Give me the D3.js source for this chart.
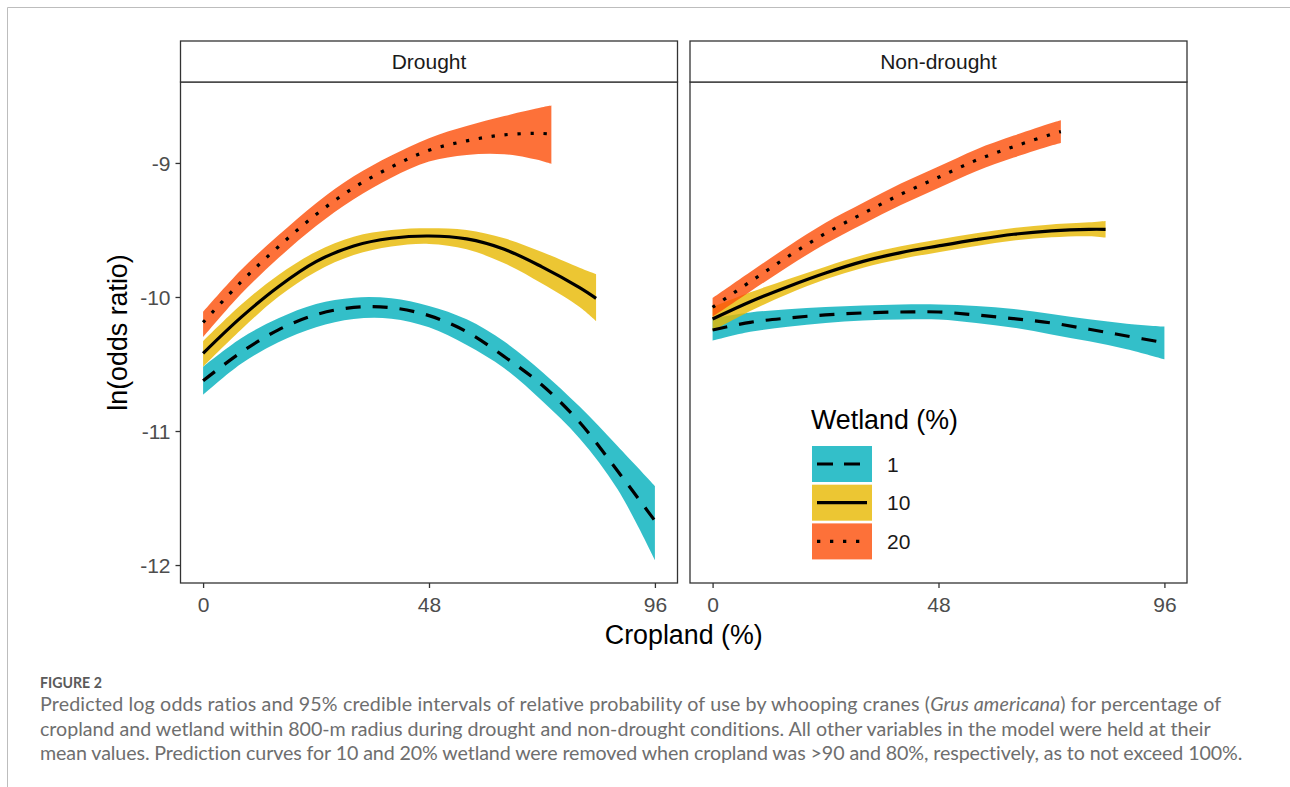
<!DOCTYPE html>
<html>
<head>
<meta charset="utf-8">
<script src="https://cdn.jsdelivr.net/npm/d3@7"></script>
<style>
  body { margin: 0; background: #fff; }
  svg { display: block; }
</style>
</head>
<body>
<div id="chart"></div>
<script>
// facets, legend levels and ticks
const panelNames = ["Drought", "Non-drought"];
const wetlandLevels = ["1", "10", "20"];
const xTicks = [0, 48, 96];
const yTicks = [-9, -10, -11, -12];

// cropland (%) positions for each curve (10% and 20% wetland are cut short)
const cropFull = [0, 8, 16, 24, 32, 40, 48, 56, 64, 72, 80, 88, 96];
const crop10 = [0, 8, 16, 24, 32, 40, 48, 56, 64, 72, 80, 83.5];
const crop20 = [0, 8, 16, 24, 32, 40, 48, 56, 64, 72, 74];

// Drought: fit, lower and upper 95% CI
const dFit1 = [-10.625, -10.415, -10.245, -10.132, -10.078, -10.08, -10.139, -10.259, -10.445, -10.657, -10.935, -11.295, -11.67];
const dLo1 = [-10.73, -10.50, -10.338, -10.226, -10.164, -10.162, -10.226, -10.358, -10.532, -10.774, -11.055, -11.43, -11.963];
const dHi1 = [-10.52, -10.309, -10.159, -10.052, -10.005, -10.01, -10.067, -10.167, -10.333, -10.557, -10.818, -11.11, -11.41];

const dFit10 = [-10.42, -10.154, -9.923, -9.736, -9.619, -9.562, -9.545, -9.567, -9.644, -9.775, -9.93, -10.01];
const dLo10 = [-10.52, -10.246, -9.998, -9.811, -9.687, -9.624, -9.604, -9.644, -9.749, -9.900, -10.075, -10.18];
const dHi10 = [-10.33, -10.06, -9.836, -9.662, -9.55, -9.50, -9.487, -9.50, -9.562, -9.664, -9.782, -9.83];

const dFit20 = [-10.19, -9.89, -9.625, -9.385, -9.185, -9.03, -8.905, -8.835, -8.79, -8.78, -8.786];
const dLo20 = [-10.30, -9.98, -9.71, -9.47, -9.27, -9.11, -8.99, -8.94, -8.935, -8.985, -9.007];
const dHi20 = [-10.11, -9.80, -9.54, -9.30, -9.10, -8.945, -8.815, -8.725, -8.65, -8.585, -8.572];

// Non-drought
const nFit1 = [-10.246, -10.189, -10.157, -10.134, -10.119, -10.112, -10.112, -10.134, -10.162, -10.194, -10.241, -10.291, -10.341];
const nLo1 = [-10.326, -10.26, -10.222, -10.194, -10.175, -10.168, -10.168, -10.194, -10.229, -10.279, -10.331, -10.39, -10.465];
const nHi1 = [-10.159, -10.115, -10.092, -10.074, -10.063, -10.056, -10.056, -10.067, -10.09, -10.127, -10.167, -10.199, -10.221];

const nFit10 = [-10.164, -10.035, -9.923, -9.821, -9.734, -9.669, -9.619, -9.572, -9.532, -9.507, -9.495, -9.495];
const nLo10 = [-10.254, -10.105, -9.978, -9.868, -9.781, -9.716, -9.666, -9.619, -9.579, -9.555, -9.547, -9.557];
const nHi10 = [-10.074, -9.965, -9.868, -9.774, -9.687, -9.622, -9.572, -9.525, -9.485, -9.459, -9.443, -9.433];

const nFit20 = [-10.077, -9.886, -9.699, -9.525, -9.376, -9.234, -9.107, -8.980, -8.878, -8.786, -8.766];
const nLo20 = [-10.147, -9.959, -9.774, -9.603, -9.455, -9.314, -9.187, -9.061, -8.96, -8.87, -8.851];
const nHi20 = [-10.007, -9.813, -9.624, -9.447, -9.297, -9.154, -9.027, -8.899, -8.796, -8.702, -8.681];

const series = [
  { panel: 0, level: 0, x: cropFull, fit: dFit1, lo: dLo1, hi: dHi1 },
  { panel: 0, level: 1, x: crop10, fit: dFit10, lo: dLo10, hi: dHi10 },
  { panel: 0, level: 2, x: crop20, fit: dFit20, lo: dLo20, hi: dHi20 },
  { panel: 1, level: 0, x: cropFull, fit: nFit1, lo: nLo1, hi: nHi1 },
  { panel: 1, level: 1, x: crop10, fit: nFit10, lo: nLo10, hi: nHi10 },
  { panel: 1, level: 2, x: crop20, fit: nFit20, lo: nLo20, hi: nHi20 }
];

const fills = ["#00AFBB", "#E7B800", "#FC4E07"];
const dashes = ["15 12", null, "3.3 9.7"];
const lineW = 3.2;
const curve = d3.curveCatmullRom.alpha(0.5);

const W = 1290, H = 787;
const font = "'Liberation Sans', Arial, sans-serif";
const smallSize = 21, titleSize = 26.8;

const svg = d3.select("#chart").append("svg")
  .attr("width", W)
  .attr("height", H);

// outer frame of the figure box
svg.append("path")
  .attr("d", `M7.5,${H} V7.5 H${W}`)
  .attr("fill", "none")
  .attr("stroke", "#bdbdbd")
  .attr("stroke-width", 1);

const panelTop = 82, panelBottom = 583, stripTop = 41;
const panelX = [[180.5, 677.5], [690, 1187]];

const y = d3.scaleLinear().domain([-12.134, -8.396]).range([panelBottom, panelTop]);

panelNames.forEach((name, p) => {
  const x = d3.scaleLinear().domain([-4.8, 100.8]).range(panelX[p]);
  const g = svg.append("g");

  // clip to panel
  const clipId = "clip" + p;
  svg.append("clipPath").attr("id", clipId)
    .append("rect")
    .attr("x", panelX[p][0]).attr("y", panelTop)
    .attr("width", panelX[p][1] - panelX[p][0]).attr("height", panelBottom - panelTop);

  const plot = g.append("g").attr("clip-path", `url(#${clipId})`);
  const mine = series.filter(s => s.panel === p);

  // ribbons first, then lines
  mine.forEach(s => {
    const pts = s.x.map((c, i) => ({ c, lo: s.lo[i], hi: s.hi[i] }));
    plot.append("path")
      .datum(pts)
      .attr("fill", fills[s.level])
      .attr("fill-opacity", 0.8)
      .attr("d", d3.area()
        .curve(curve)
        .x(d => x(d.c))
        .y0(d => y(d.lo))
        .y1(d => y(d.hi)));
  });

  mine.forEach(s => {
    const pts = s.x.map((c, i) => ({ c, v: s.fit[i] }));
    plot.append("path")
      .datum(pts)
      .attr("fill", "none")
      .attr("stroke", "#000")
      .attr("stroke-width", lineW)
      .attr("stroke-dasharray", dashes[s.level])
      .attr("d", d3.line()
        .curve(curve)
        .x(d => x(d.c))
        .y(d => y(d.v)));
  });

  // panel border
  g.append("rect")
    .attr("x", panelX[p][0]).attr("y", panelTop)
    .attr("width", panelX[p][1] - panelX[p][0]).attr("height", panelBottom - panelTop)
    .attr("fill", "none").attr("stroke", "#333").attr("stroke-width", 1.3);

  // strip
  g.append("rect")
    .attr("x", panelX[p][0]).attr("y", stripTop)
    .attr("width", panelX[p][1] - panelX[p][0]).attr("height", panelTop - stripTop)
    .attr("fill", "#fff").attr("stroke", "#333").attr("stroke-width", 1.3);
  g.append("text")
    .attr("x", (panelX[p][0] + panelX[p][1]) / 2)
    .attr("y", 69)
    .attr("text-anchor", "middle")
    .attr("font-family", font)
    .attr("font-size", smallSize)
    .attr("fill", "#1a1a1a")
    .text(name);

  // x axis
  const xAxis = g.append("g")
    .attr("transform", `translate(0,${panelBottom})`)
    .call(d3.axisBottom(x).tickValues(xTicks).tickSize(5).tickFormat(d => String(d)));
  xAxis.select(".domain").remove();
  xAxis.selectAll(".tick line").attr("stroke", "#333").attr("stroke-width", 1.3);
  xAxis.selectAll(".tick text")
    .attr("y", 29).attr("dy", null)
    .attr("font-family", font).attr("font-size", smallSize).attr("fill", "#4d4d4d");

  // y axis only on the first panel
  if (p === 0) {
    const yAxis = g.append("g")
      .attr("transform", `translate(${panelX[0][0]},0)`)
      .call(d3.axisLeft(y).tickValues(yTicks).tickSize(5).tickPadding(5).tickFormat(d => String(d)));
    yAxis.select(".domain").remove();
    yAxis.selectAll(".tick line").attr("stroke", "#333").attr("stroke-width", 1.3);
    yAxis.selectAll(".tick text")
      .attr("dy", "0.36em")
      .attr("font-family", font).attr("font-size", smallSize).attr("fill", "#4d4d4d");
  }
});

// axis titles
svg.append("text")
  .attr("x", (panelX[0][0] + panelX[1][1]) / 2)
  .attr("y", 644)
  .attr("text-anchor", "middle")
  .attr("font-family", font)
  .attr("font-size", titleSize)
  .attr("fill", "#000")
  .text("Cropland (%)");

svg.append("text")
  .attr("transform", `translate(127,${(panelTop + panelBottom) / 2}) rotate(-90)`)
  .attr("text-anchor", "middle")
  .attr("font-family", font)
  .attr("font-size", titleSize)
  .attr("fill", "#000")
  .text("ln(odds ratio)");

// legend
const legend = svg.append("g").attr("transform", "translate(812,0)");
legend.append("text")
  .attr("x", -1).attr("y", 429)
  .attr("font-family", font)
  .attr("font-size", titleSize)
  .attr("fill", "#000")
  .text("Wetland (%)");

const keyW = 60, keyH = 36, keyY0 = 446, keyStep = 38.7;
wetlandLevels.forEach((lab, i) => {
  const ky = keyY0 + i * keyStep;
  legend.append("rect")
    .attr("x", 0).attr("y", ky)
    .attr("width", keyW).attr("height", keyH)
    .attr("fill", fills[i]).attr("fill-opacity", 0.8);
  legend.append("line")
    .attr("x1", 5).attr("x2", 55)
    .attr("y1", ky + keyH / 2).attr("y2", ky + keyH / 2)
    .attr("stroke", "#000")
    .attr("stroke-width", lineW)
    .attr("stroke-dasharray", i === 0 ? "16 11" : dashes[i]);
  legend.append("text")
    .attr("x", 75).attr("y", ky + keyH / 2 + 7.5)
    .attr("font-family", font)
    .attr("font-size", smallSize)
    .attr("fill", "#1a1a1a")
    .text(lab);
});

// caption
const capFont = "Lato, 'Open Sans', sans-serif";
const capLines = [
  ["Predicted log odds ratios and 95% credible intervals of relative probability of use by whooping cranes (", "Grus americana", ") for percentage of"],
  ["cropland and wetland within 800-m radius during drought and non-drought conditions. All other variables in the model were held at their"],
  ["mean values. Prediction curves for 10 and 20% wetland were removed when cropland was >90 and 80%, respectively, as to not exceed 100%."]
];
const capY = [711, 735.5, 760];
const capWidths = [1182, 1171, 1203];

const fig = svg.append("text")
  .attr("x", 40).attr("y", 688)
  .attr("font-family", capFont)
  .attr("font-weight", 700)
  .attr("font-size", 13)
  .attr("fill", "#5a5a5a")
  .text("FIGURE 2");
const fw = fig.node().getComputedTextLength();
fig.attr("font-size", 13 * 62 / fw);

const capTexts = capLines.map((parts, i) => {
  const t = svg.append("text")
    .attr("x", 40).attr("y", capY[i])
    .attr("font-family", capFont)
    .attr("font-size", 16)
    .attr("fill", "#6e6e6e");
  parts.forEach((s, j) => {
    t.append("tspan").attr("font-style", j === 1 ? "italic" : null).text(s);
  });
  return t;
});
// one font size for all lines, then small spacing tweak per line
const measured = capTexts.map(t => t.node().getComputedTextLength());
const capSize = 16 * d3.sum(capWidths) / d3.sum(measured);
capTexts.forEach((t, i) => {
  t.attr("font-size", capSize);
  const w = t.node().getComputedTextLength();
  const nChars = capLines[i].join("").length;
  t.attr("letter-spacing", ((capWidths[i] - w) / nChars).toFixed(3));
});
</script>
</body>
</html>
